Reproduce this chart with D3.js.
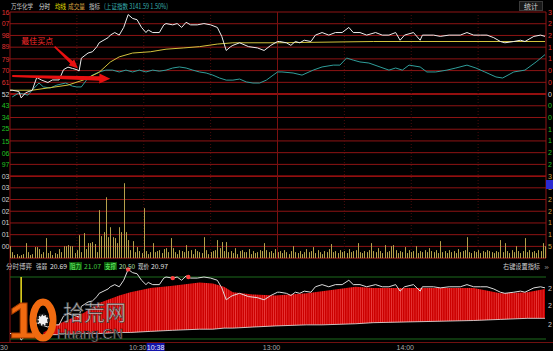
<!DOCTYPE html>
<meta charset="utf-8">
<body style="margin:0;background:#000">
<div id="chart"></div>
<script src="https://cdn.jsdelivr.net/npm/d3@7/dist/d3.min.js"></script>
<script>
    var width = 553;
    var height = 351;

    // 昨收与坐标范围
    var prevClose = 20.52;
    var maxPct = 3.12;
    var volStep = 500.5;
    var resistance = 21.07, support = 20.50, strengthNow = 20.69, lastPrice = 20.97;

    // 分时价格 [分钟(自09:30起), 价格]
    var priceLine = [[0,20.55],[1,20.55],[4,20.54],[5,20.49],[7,20.53],[10,20.55],[12,20.65],[14,20.63],[17,20.61],
      [19,20.63],[22,20.63],[24,20.71],[26,20.73],[28,20.72],[30,20.71],[31,20.70],[32,20.80],[35,20.84],[37,20.85],
      [39,20.89],[40,20.92],[44,20.96],[45,20.98],[47,21.00],[49,20.98],[51,21.04],[53,21.14],[55,21.11],[57,21.10],
      [59,21.04],[61,21.00],[62,21.02],[64,21.00],[67,21.00],[69,21.06],[70,21.07],[73,21.06],[75,21.07],[77,21.04],
      [79,21.08],[81,21.06],[84,21.06],[87,21.07],[90,21.06],[93,21.04],[95,20.97],[97,20.86],[99,20.89],[100,20.90],
      [103,20.92],[107,20.89],[111,20.88],[114,20.86],[117,20.90],[120,20.93],[121,20.93],[124,20.92],[126,20.90],
      [128,20.93],[130,20.92],[132,20.94],[135,20.93],[137,20.98],[140,21.00],[143,20.98],[146,21.00],[149,21.00],
      [152,21.04],[154,21.00],[157,21.00],[160,20.98],[164,21.00],[167,20.98],[170,20.98],[173,21.00],[175,20.94],
      [177,20.98],[181,21.00],[184,20.94],[185,20.98],[190,20.98],[193,20.97],[197,20.98],[202,20.98],[205,21.00],
      [208,20.98],[211,20.98],[214,20.98],[217,20.96],[220,20.93],[222,20.92],[226,20.93],[229,20.94],[231,20.93],
      [235,20.97],[238,20.98],[240,20.97]];

    // 均价线
    var avgLine = [[0,20.55],[10,20.55],[18,20.57],[26,20.59],[33,20.63],[40,20.69],[45,20.77],[49,20.81],[55,20.84],
      [63,20.85],[70,20.87],[78,20.88],[85,20.89],[93,20.91],[100,20.92],[120,20.92],[163,20.93],[240,20.93]];

    // 上证指数涨跌幅 %
    var indexPct = [[1,-0.11],[4,0.04],[8,-0.04],[10,0.15],[13,0.42],[15,0.27],[18,0.23],[21,0.34],[25,0.42],
      [28,0.30],[30,0.27],[32,0.27],[35,0.61],[37,0.72],[40,0.84],[43,0.91],[46,0.91],[49,0.84],[52,0.91],[55,0.84],
      [58,0.91],[61,0.84],[64,0.91],[67,0.87],[70,0.91],[73,0.99],[76,1.03],[79,0.99],[82,0.91],[85,0.84],[88,0.80],
      [91,0.72],[94,0.61],[97,0.53],[100,0.53],[103,0.57],[106,0.46],[109,0.42],[112,0.42],[115,0.53],[120,0.84],
      [122,0.84],[127,0.80],[131,0.72],[136,0.91],[140,1.03],[145,1.10],[148,1.10],[151,1.37],[154,1.29],[157,1.22],
      [161,1.18],[166,1.03],[170,0.91],[173,0.99],[176,0.91],[179,1.10],[184,1.03],[187,0.84],[191,0.84],[196,0.91],
      [200,0.99],[205,1.10],[209,0.99],[213,0.84],[218,0.65],[221,0.61],[226,0.84],[231,0.91],[236,1.22],[240,1.50]];

    // 成交量(手), 每分钟一根
    var volumes = [
      510,255,130,170,85,130,170,640,255,130,
      170,470,470,385,170,255,855,215,300,130,
      215,170,385,255,510,510,555,510,510,215,
      340,980,255,1070,385,640,640,685,600,255,
      2050,940,1110,2600,895,1320,895,855,640,1320,
      1110,3200,1110,770,340,725,255,470,300,215,
      2135,300,170,255,640,255,300,340,215,385,
      425,255,855,425,255,170,340,300,255,555,
      300,340,170,385,300,255,215,895,340,170,
      255,300,340,770,425,685,300,685,255,300,
      215,425,170,300,340,255,255,385,170,300,
      215,255,340,300,640,340,255,300,215,385,
      255,300,215,340,255,170,300,510,255,215,
      300,170,255,385,255,300,470,215,340,255,
      170,300,255,385,600,255,300,215,340,255,
      300,215,385,255,300,340,640,255,215,300,
      255,340,640,300,255,425,300,215,555,255,
      300,510,555,340,215,300,255,470,215,340,
      255,300,510,215,300,255,340,255,425,300,
      255,340,215,725,255,300,215,340,255,300,
      215,385,255,300,340,895,255,215,300,255,
      340,215,300,255,340,300,255,215,300,255,
      770,255,640,300,215,340,255,510,300,215,
      300,855,255,340,255,300,215,340,300,640,
      510];

    // 分时博弈: [分钟, 博弈线, 强弱线]
    var gameRows = [[15,20.56,20.54],[21,20.63,20.54],[33,20.74,20.55],[40,20.83,20.55],[49,20.90,20.56],
      [54,20.93,20.56],[63,20.97,20.57],[73,20.99,20.58],[85,21.02,20.59],[91,21.01,20.59],[96,20.98,20.60],
      [100,20.93,20.60],[109,20.91,20.61],[119,20.90,20.62],[133,20.92,20.63],[140,20.94,20.63],[155,20.98,20.64],
      [163,20.97,20.65],[208,20.97,20.67],[220,20.92,20.68],[232,20.93,20.69],[240,20.96,20.69]];
    var gameMarks = [[53,21.14],[73,21.06],[80,21.07]];
    var signalMinute = 5;

    // 刻度 (窗口边缘只露出的部分)
    var priceTicks = [21.16,21.07,20.98,20.89,20.79,20.70,20.61,20.52,20.43,20.34,20.25,20.15,20.06,19.97];
    var pctTicks = [3.12,2.67,2.23,1.78,1.34,0.89,0.45,0,-0.45,-0.89,-1.34,-1.78,-2.23,-2.67];
    var volTicks = [3503,3003,2502,2002,1501,1001,500];
    var gameTicks = [20.96,20.81,20.63];
    var timeTicks = [[0,"30"],[60,"10:30"],[120,"13:00"],[180,"14:00"]];
    var halfHours = [30,60,90,120,150,180,210];
    var cursorMinute = 68, cursorLabel = "10:38";

    var svg = d3.select("#chart").append("svg")
        .attr("width", width)
        .attr("height", height)
        .style("display", "block")
        .style("background", "#000");

    var num = "'Liberation Sans', Arial, sans-serif";
    var cjk = "'Noto Sans CJK SC', sans-serif";

    var x = d3.scaleLinear().domain([0, 240]).range([10, 545]);
    var yP = d3.scaleLinear().domain([prevClose*(1-maxPct/100), prevClose*(1+maxPct/100)]).range([176.1, 12]);
    var yPct = d3.scaleLinear().domain([-maxPct, maxPct]).range([176.1, 12]);
    var yV = d3.scaleLinear().domain([0, volStep*7]).range([258.1, 176.1]);
    var yB = d3.scaleLinear().domain([support, resistance]).range([339, 277]);

    // 网格
    var grid = svg.append("g");
    d3.range(-7, 8).forEach(function(k){
      var yy = yPct(k*maxPct/7);
      grid.append("line").attr("x1", 10).attr("x2", 546).attr("y1", yy).attr("y2", yy)
        .attr("stroke", (k==0||k==-7) ? "#c41414" : "#8e1414").attr("stroke-width", (k==0||k==-7) ? 1.4 : 1);
    });
    d3.range(0, 7).forEach(function(k){
      var yy = yV(k*volStep);
      grid.append("line").attr("x1", 10).attr("x2", 546).attr("y1", yy).attr("y2", yy)
        .attr("stroke", k==0 ? "#a01414" : "#8e1414");
    });
    halfHours.forEach(function(m){
      grid.append("line").attr("x1", x(m)).attr("x2", x(m)).attr("y1", 12).attr("y2", 258)
        .attr("stroke", m==120 ? "#7a1010" : "#4a0c0c").attr("stroke-dasharray", m==120 ? null : "1,2");
    });
    grid.append("line").attr("x1", 10).attr("x2", 10).attr("y1", 12).attr("y2", 342).attr("stroke", "#8e1414");
    grid.append("line").attr("x1", 546).attr("x2", 546).attr("y1", 12).attr("y2", 258).attr("stroke", "#8e1414");
    [resistance, support].forEach(function(v){
      grid.append("line").attr("x1", 10).attr("x2", 546).attr("y1", yB(v)).attr("y2", yB(v)).attr("stroke", "#1c6a1c");
    });
    grid.append("line").attr("x1", 0).attr("x2", 553).attr("y1", 342.5).attr("y2", 342.5).attr("stroke", "#701010");

    // 左侧刻度: 只显示末两位
    svg.append("g").selectAll("text").data(priceTicks).enter().append("text")
      .attr("x", 9.5).attr("y", function(d){return yP(d)+2.5;})
      .attr("text-anchor", "end").style("font", "7px " + num)
      .attr("fill", function(d){return d > prevClose ? "#e03030" : (d < prevClose ? "#22c022" : "#d8d8d8");})
      .text(function(d){return d.toFixed(2).slice(-2);});
    svg.append("g").selectAll("text").data(volTicks).enter().append("text")
      .attr("x", 9.5).attr("y", function(d){return yV(d)+2.5;})
      .attr("text-anchor", "end").style("font", "7px " + num).attr("fill", "#d0d0d0")
      .text(function(d){return String(d).slice(-2);});

    // 右侧刻度: 只显示首位
    svg.append("g").selectAll("text").data(pctTicks).enter().append("text")
      .attr("x", 548).attr("y", function(d){return yPct(d)+2.5;})
      .style("font", "7px " + num)
      .attr("fill", function(d){return d > 0 ? "#e03030" : (d < 0 ? "#22c022" : "#d8d8d8");})
      .text(function(d){return Math.abs(d).toFixed(2).charAt(0);});
    svg.append("g").selectAll("text").data(volTicks).enter().append("text")
      .attr("x", 548).attr("y", function(d){return yV(d)+2.5;})
      .style("font", "7px " + num).attr("fill", "#c8a040")
      .text(function(d){return String(d).charAt(0);});
    svg.append("g").selectAll("text").data(gameTicks).enter().append("text")
      .attr("x", 548).attr("y", function(d){return yB(d)+2.5;})
      .style("font", "7px " + num).attr("fill", "#c8c8c8")
      .text(function(d){return d.toFixed(2).charAt(0);});
    svg.append("rect").attr("x", 546).attr("y", 180).attr("width", 7).attr("height", 9).attr("fill", "#2a2ad0");

    // 成交量
    svg.append("g").selectAll("rect").data(volumes).enter().append("rect")
      .attr("x", function(d,i){return Math.round(x(i));})
      .attr("width", 1)
      .attr("y", function(d){return yV(d);})
      .attr("height", function(d){return yV(0) - yV(d);})
      .attr("fill", "#b4a04a");

    // 价格、均价、指数
    var lineP = d3.line().x(function(d){return x(d[0]);}).y(function(d){return yP(d[1]);});
    var linePct = d3.line().x(function(d){return x(d[0]);}).y(function(d){return yPct(d[1]);});
    svg.append("path").datum(indexPct).attr("d", linePct).attr("fill", "none").attr("stroke", "#2f9e9a").attr("stroke-width", 1);
    svg.append("path").datum(avgLine).attr("d", lineP).attr("fill", "none").attr("stroke", "#d2c23c").attr("stroke-width", 1);
    svg.append("path").datum(priceLine).attr("d", lineP).attr("fill", "none").attr("stroke", "#ececec").attr("stroke-width", 1);

    // 分时博弈
    var defs = svg.append("defs");
    var pat = defs.append("pattern").attr("id", "stripes").attr("patternUnits", "userSpaceOnUse")
      .attr("x", 10).attr("width", x(1)-x(0)).attr("height", 10);
    pat.append("rect").attr("width", x(1)-x(0)).attr("height", 10).attr("fill", "#cc0000");
    pat.append("rect").attr("width", 0.6).attr("height", 10).attr("fill", "#f04848");
    var areaB = d3.area().x(function(d){return x(d[0]);}).y0(function(d){return yB(d[2]);}).y1(function(d){return yB(d[1]);});
    svg.append("path").datum(gameRows).attr("d", areaB).attr("fill", "url(#stripes)");
    svg.append("path").datum(gameRows)
      .attr("d", d3.line().x(function(d){return x(d[0]);}).y(function(d){return yB(d[2]);}))
      .attr("fill", "none").attr("stroke", "#e8e8e8").attr("stroke-width", 0.8);
    svg.append("line").attr("x1", x(signalMinute)).attr("x2", x(signalMinute))
      .attr("y1", yB(resistance)).attr("y2", yB(support) - 4).attr("stroke", "#f0e020").attr("stroke-width", 1.5);
    svg.append("path").datum(priceLine)
      .attr("d", d3.line().x(function(d){return x(d[0]);}).y(function(d){return yB(d[1]);}))
      .attr("fill", "none").attr("stroke", "#dcdcdc").attr("stroke-width", 1);
    svg.append("g").selectAll("circle").data(gameMarks).enter().append("circle")
      .attr("cx", function(d){return x(d[0]);}).attr("cy", function(d){return yB(d[1]);})
      .attr("r", 2.2).attr("fill", "#ff4040");

    // 标注箭头
    function arrow(x0, y0, x1, y1, w0, w1, hw, hl) {
      var dx = x1-x0, dy = y1-y0, L = Math.sqrt(dx*dx+dy*dy);
      var ux = dx/L, uy = dy/L, nx = -uy, ny = ux;
      var bx = x1-ux*hl, by = y1-uy*hl;
      var pts = [[x0+nx*w0/2, y0+ny*w0/2], [bx+nx*w1/2, by+ny*w1/2], [bx+nx*hw/2, by+ny*hw/2], [x1, y1],
        [bx-nx*hw/2, by-ny*hw/2], [bx-nx*w1/2, by-ny*w1/2], [x0-nx*w0/2, y0-ny*w0/2]];
      return "M" + pts.join("L") + "Z";
    }
    svg.append("path").attr("d", arrow(x(1), yP(20.66), x(45), yP(20.64), 2, 4.5, 10, 11)).attr("fill", "#e81010");
    svg.append("path").attr("d", arrow(x(20), yP(20.89), x(30.5), yP(20.72), 1.5, 3.5, 8, 9)).attr("fill", "#e81010");
    svg.append("text").attr("x", x(5)).attr("y", yP(20.91)).attr("fill", "#ff2a2a")
      .style("font", "8px " + cjk).text("最佳买点");

    // 顶部标题
    var header = [
      [11, "万华化学", "#c8c8c8", 22], [39, "分时", "#e0e0e0", 11], [55, "均线", "#e8e000", 11],
      [68, "成交量", "#d8a040", 17], [89, "指标", "#c8c8c8", 11], [104, "(上证指数 3141.59 1.50%)", "#38b0b0", 64]];
    header.forEach(function(h){
      svg.append("text").attr("x", h[0]).attr("y", 8.5).attr("fill", h[2])
        .attr("textLength", h[3]).attr("lengthAdjust", "spacingAndGlyphs")
        .style("font", "7px " + cjk).text(h[1]);
    });
    svg.append("rect").attr("x", 519.5).attr("y", 1.5).attr("width", 23).attr("height", 9)
      .attr("fill", "#181818").attr("stroke", "#3a3a3a");
    svg.append("text").attr("x", 524).attr("y", 9).attr("fill", "#d0d0d0").style("font", "7px " + cjk).text("统计");

    // 副图标题
    [[69, 82], [104, 117]].forEach(function(b){
      svg.append("rect").attr("x", b[0]).attr("y", 262).attr("width", b[1]-b[0]).attr("height", 8).attr("fill", "#0c5a0c");
    });
    var sub = [
      [6, "分时博弈", "#c8c8c8", 26], [36, "强弱", "#c8c8c8", 11], [50, strengthNow.toFixed(2), "#e0e0e0", 17],
      [70, "阻力", "#70ff70", 11], [84, resistance.toFixed(2), "#40d040", 17], [105, "支撑", "#70ff70", 11],
      [119, support.toFixed(2), "#b0e0b0", 16], [138, "现价", "#e0e0e0", 11], [151, lastPrice.toFixed(2), "#e0e0e0", 17],
      [503, "右键设置指标", "#d0d0d0", 37], [544, "»", "#909090", 5]];
    sub.forEach(function(h){
      svg.append("text").attr("x", h[0]).attr("y", 268.5).attr("fill", h[2])
        .attr("textLength", h[3]).attr("lengthAdjust", "spacingAndGlyphs")
        .style("font", "7px " + cjk).text(h[1]);
    });

    // 时间轴
    svg.append("g").selectAll("text").data(timeTicks).enter().append("text")
      .attr("x", function(d){return d[0] == 0 ? 4 : x(d[0]) - 6;}).attr("y", 349.5)
      .attr("text-anchor", "middle").style("font", "7px " + num).attr("fill", "#a8a8a8")
      .text(function(d){return d[1];});
    svg.append("rect").attr("x", x(cursorMinute) - 15).attr("y", 343).attr("width", 18).attr("height", 8).attr("fill", "#1414a8");
    svg.append("text").attr("x", x(cursorMinute) - 6).attr("y", 349.5).attr("text-anchor", "middle")
      .style("font", "7px " + num).attr("fill", "#e8e8ff").text(cursorLabel);

    // 水印
    var wm = svg.append("g");
    wm.append("text").attr("x", 8.5).attr("y", 338).style("font", "bold 50px " + num)
      .attr("fill", "#f06a10").attr("stroke", "#a83c00").attr("stroke-width", 1).text("1");
    wm.append("ellipse").attr("cx", 43).attr("cy", 320).attr("rx", 10).attr("ry", 18)
      .attr("fill", "none").attr("stroke", "#f06a10").attr("stroke-width", 7);
    wm.append("circle").attr("cx", 43).attr("cy", 320).attr("r", 5.5)
      .attr("fill", "#f0f0f0").attr("stroke", "#202020").attr("stroke-width", 2.4).attr("stroke-dasharray", "2,1.6");
    wm.append("text").attr("x", 63).attr("y", 320).style("font", "21px " + cjk)
      .attr("fill", "#e4e4e4").attr("fill-opacity", 0.82).attr("stroke", "#3a3a3a").attr("stroke-width", 0.6).text("拾荒网");
    wm.append("text").attr("x", 57).attr("y", 339).style("font", "15px " + num)
      .attr("textLength", 66).attr("lengthAdjust", "spacingAndGlyphs")
      .attr("fill", "#f2f2f2").attr("stroke", "#111").attr("stroke-width", 0.7).text("Huang.CN");
</script>
</body>
